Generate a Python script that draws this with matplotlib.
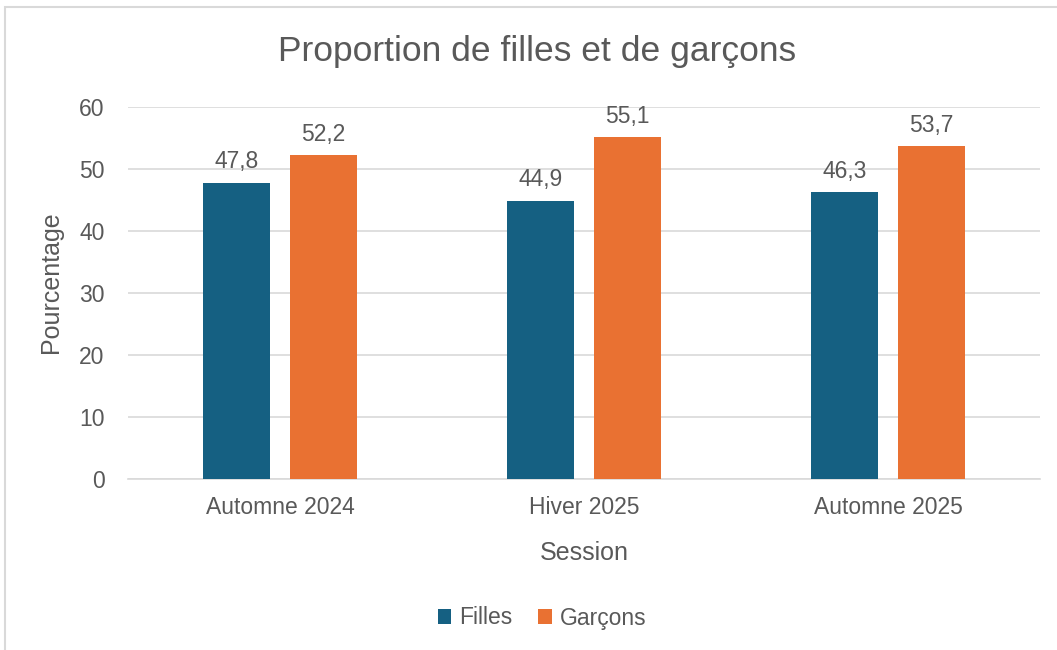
import numpy as np
import matplotlib.pyplot as plt
from matplotlib.patches import Rectangle

sessions = ["Automne 2024", "Hiver 2025", "Automne 2025"]
filles = [47.8, 44.9, 46.3]
garcons = [52.2, 55.1, 53.7]
yticks = [0, 10, 20, 30, 40, 50, 60]

W, H = 1057, 650
fig = plt.figure(figsize=(W / 100, H / 100), dpi=100)
plt.rcParams['font.family'] = ['Liberation Sans', 'DejaVu Sans']
grey = "#595959"

# plot area in pixels: x 128..1040, y 107 (60) .. 479 (0)
ax = fig.add_axes([128 / W, 1 - 479 / H, 912 / W, 372 / H])

x = np.arange(len(sessions))
w = 0.22
off = 0.143
b1 = ax.bar(x - off, filles, w, color="#156082", label="Filles", zorder=3)
b2 = ax.bar(x + off, garcons, w, color="#E97132", label="Garçons", zorder=3)

for bars, vals in ((b1, filles), (b2, garcons)):
    for r, v in zip(bars, vals):
        ax.text(r.get_x() + r.get_width() / 2, v + 1.5, f"{v:.1f}".replace(".", ","),
                ha="center", va="bottom", fontsize=16.5, color=grey)

ax.set_xlim(-0.5, 2.5)
ax.set_ylim(0, 60)
ax.set_yticks(yticks)
ax.set_xticks(x)
ax.set_xticklabels(sessions)
ax.tick_params(axis="both", length=0, labelsize=16.5, labelcolor=grey)
ax.tick_params(axis="y", pad=17)
ax.tick_params(axis="x", pad=12)
ax.grid(axis="y", color="#d9d9d9", linewidth=1.2, zorder=0)
for s in ["top", "right", "left"]:
    ax.spines[s].set_visible(False)
ax.spines["bottom"].set_color("#d9d9d9")
ax.spines["bottom"].set_linewidth(1.2)

ax.set_xlabel("Session", fontsize=18, color=grey, labelpad=16)
ax.set_ylabel("Pourcentage", fontsize=18, color=grey, va="center")
ax.yaxis.set_label_coords(-(128 - 51) / 912, 0.53)

fig.text(537 / W, 1 - 51 / H, "Proportion de filles et de garçons",
         ha="center", va="center", fontsize=25.5, color=grey)

fig.legend(handles=[b1, b2], loc="center", bbox_to_anchor=(542 / W, 1 - 618 / H),
           ncol=2, frameon=False, fontsize=16.5, labelcolor=grey,
           handlelength=0.6, handleheight=0.6, handletextpad=0.35, columnspacing=1.1)

# chart border
fig.patches.append(Rectangle((5 / W, -0.1), 1.2, 1 - 7 / H + 0.1, transform=fig.transFigure,
                             fill=False, edgecolor="#d9d9d9", linewidth=1.5))

fig.savefig("out.png", dpi=100)
